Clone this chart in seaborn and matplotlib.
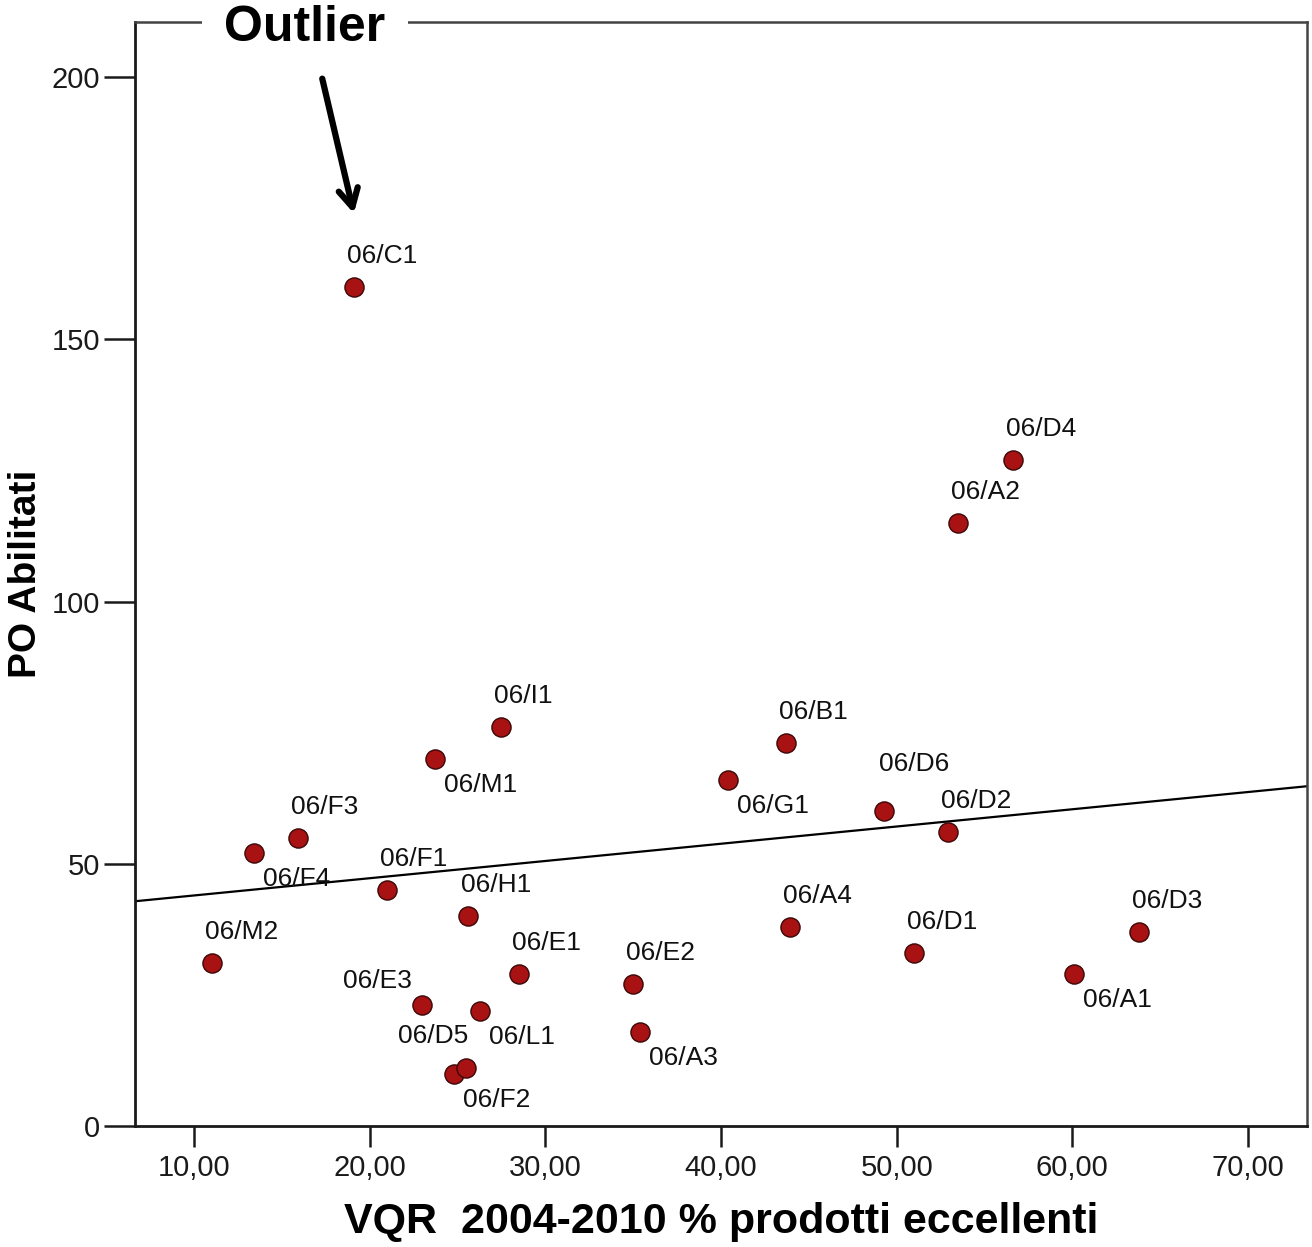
import matplotlib
matplotlib.use("Agg")
import matplotlib.pyplot as plt
import seaborn as sns
import pandas as pd

# === Dati ===
settori = ["06/C1", "06/D4", "06/A2", "06/I1", "06/M1", "06/B1", "06/G1",
           "06/D6", "06/D2", "06/F3", "06/F4", "06/F1", "06/H1", "06/A4",
           "06/D3", "06/D1", "06/M2", "06/E1", "06/A1", "06/E2", "06/E3",
           "06/L1", "06/A3", "06/F2", "06/D5"]
vqr_eccellenti = [19.1, 56.6, 53.5, 27.5, 23.7, 43.7, 40.4,
                  49.3, 52.9, 15.9, 13.4, 21.0, 25.6, 43.9,
                  63.8, 51.0, 11.0, 28.5, 60.1, 35.0, 23.0,
                  26.3, 35.4, 24.8, 25.5]
po_abilitati = [160, 127, 115, 76, 70, 73, 66,
                60, 56, 55, 52, 45, 40, 38,
                37, 33, 31, 29, 29, 27, 23,
                22, 18, 10, 11]
# posizione etichetta: sopra, sotto, o casi particolari
posizione = ["su", "su", "su", "su", "giu", "su", "giu",
             "su_alto", "su", "su", "giu", "su", "su", "su",
             "su", "su", "su", "su", "giu", "su", "sx",
             "giu", "giu", "giu", "sx_alto"]

df = pd.DataFrame({"x": vqr_eccellenti, "y": po_abilitati,
                   "label": settori, "pos": posizione})

sns.set_style("ticks")
plt.rcParams["font.family"] = ["Liberation Sans", "DejaVu Sans"]
plt.rcParams["text.color"] = "black"
plt.rcParams["axes.labelcolor"] = "black"

fig = plt.figure(figsize=(13.12, 12.47), dpi=100)
ax = fig.add_axes([135 / 1312, 1 - 1126 / 1247,
                   (1307 - 135) / 1312, (1126 - 22) / 1247])

xlim = (6.64, 73.36)
ylim = (0, 210.5)
ax.set_xlim(xlim)
ax.set_ylim(ylim)

# retta di regressione (estesa su tutto l'asse)
sns.regplot(data=df, x="x", y="y", scatter=False, ci=None, truncate=False,
            ax=ax, line_kws=dict(color="black", lw=1.6, zorder=2))

sns.scatterplot(data=df, x="x", y="y", ax=ax, s=190, color="#a81212",
                edgecolor="#3a0808", linewidth=1.0, zorder=3)

offsets = {
    "su": ((-7, 31), "left"),
    "su_alto": ((-5, 47), "left"),
    "giu": ((9, -26), "left"),
    "sx": ((-11, 24), "right"),
    "sx_alto": ((2, 32), "right"),
}
for _, r in df.iterrows():
    (dx, dy), ha = offsets[r["pos"]]
    ax.annotate(r["label"], (r["x"], r["y"]), xytext=(dx, dy),
                textcoords="offset pixels", ha=ha, va="center",
                fontsize=19, color="#111111", zorder=4)

ax.set_xlim(xlim)
ax.set_ylim(ylim)

ax.set_xticks([10, 20, 30, 40, 50, 60, 70])
ax.set_xticklabels(["10,00", "20,00", "30,00", "40,00", "50,00", "60,00", "70,00"])
ax.set_yticks([0, 50, 100, 150, 200])
ax.tick_params(axis="x", length=15, width=1.8, pad=5, labelsize=21,
               colors="#1a1a1a")
ax.tick_params(axis="y", length=22, width=1.8, pad=3, labelsize=21,
               colors="#1a1a1a")

for side in ["left", "bottom"]:
    ax.spines[side].set_linewidth(2.0)
    ax.spines[side].set_color("#1a1a1a")
for side in ["top", "right"]:
    ax.spines[side].set_visible(True)
    ax.spines[side].set_linewidth(1.8)
    ax.spines[side].set_color("#444444")

ax.set_xlabel("VQR  2004-2010 % prodotti eccellenti", fontsize=31,
              weight="bold", va="center")
ax.set_ylabel("PO Abilitati", fontsize=28, weight="bold", va="center")
ax.xaxis.set_label_coords(0.5, (1126 - 1222) / 1104)
ax.yaxis.set_label_coords((26 - 135) / 1172, 0.5)

# annotazione "Outlier"
ax.text(16.3, 209.3, "Outlier", ha="center", va="center", fontsize=36,
        weight="bold", color="black", zorder=6, clip_on=False,
        bbox=dict(boxstyle="square,pad=0.45", fc="white", ec="none"))
ax.annotate("", xy=(19.1, 174.0), xytext=(17.3, 199.7),
            arrowprops=dict(arrowstyle="->,head_length=1.3,head_width=0.7",
                            color="black", lw=4.5, shrinkA=0, shrinkB=0),
            zorder=6)

fig.savefig("out.png", dpi=100)
